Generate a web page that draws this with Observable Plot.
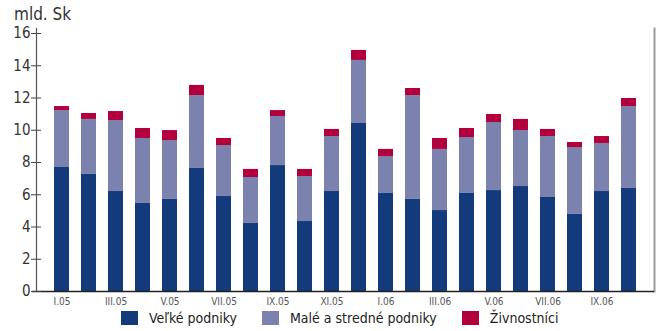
<!DOCTYPE html>
<html>
<head>
<meta charset="utf-8">
<script src="https://cdn.jsdelivr.net/npm/d3@7"></script>
<script src="https://cdn.jsdelivr.net/npm/@observablehq/plot@0.6"></script>
<style>
  html, body { margin: 0; padding: 0; background: #fff; }
  body { width: 658px; height: 331px; position: relative; overflow: hidden;
         font-family: 'Liberation Sans Narrow', 'DejaVu Sans Condensed', sans-serif; color: #333; }
  #title { position: absolute; left: 14px; top: 6px; font-size: 17px; line-height: 17px; color: #333; z-index: 2; }
  #chart { position: absolute; left: 0; top: 0; z-index: 1; }
  #legend { position: absolute; left: 121px; top: 309px; display: flex; align-items: center; font-size: 14px; line-height: 18px; color: #222; z-index: 2; }
  .sw { width: 17px; height: 14px; display: inline-block; margin-right: 11px; }
  .item { display: flex; align-items: center; margin-right: 25px; }
</style>
</head>
<body>
<div id="chart"></div>
<div id="title">mld. Sk</div>
<div id="legend"></div>
<script>
const months = ["I.05","II.05","III.05","IV.05","V.05","VI.05","VII.05","VIII.05","IX.05","X.05","XI.05","XII.05",
                "I.06","II.06","III.06","IV.06","V.06","VI.06","VII.06","VIII.06","IX.06","X.06"];
const seriesNames = ["Veľké podniky", "Malé a stredné podniky", "Živnostníci"];
const seriesColors = ["#133a7a", "#7b82ad", "#b2003e"];
const large = [7.69,7.26,6.20,5.46,5.71,7.63,5.89,4.22,7.81,4.34,6.20,10.42,6.08,5.71,5.02,6.08,6.26,6.51,5.83,4.78,6.20,6.39];
const smallMedium = [3.53,3.41,4.40,4.03,3.65,4.52,3.16,2.85,3.04,2.79,3.41,3.91,2.29,6.44,3.79,3.47,4.22,3.47,3.78,4.15,2.98,5.08];
const tradesmen = [0.25,0.37,0.56,0.62,0.62,0.63,0.44,0.50,0.37,0.44,0.44,0.62,0.44,0.44,0.68,0.56,0.50,0.69,0.44,0.31,0.43,0.50];
const yTicks = [0,2,4,6,8,10,12,14,16];
const xTickLabels = ["I.05","III.05","V.05","VII.05","IX.05","XI.05","I.06","III.06","V.06","VII.06","IX.06"];

const seriesValues = [large, smallMedium, tradesmen];
const data = [];
months.forEach((m, i) => {
  seriesNames.forEach((s, j) => data.push({month: m, series: s, value: seriesValues[j][i]}));
});

const fontFamily = "'Liberation Sans Narrow', 'DejaVu Sans Condensed', sans-serif";

const chart = Plot.plot({
  width: 658,
  height: 310,
  marginLeft: 36,
  marginRight: 4,
  marginTop: 28,
  marginBottom: 19,
  style: {fontFamily, background: "transparent", color: "#333"},
  x: {domain: months, paddingInner: 0.426, paddingOuter: 0.30, label: null},
  y: {domain: [0, 16], insetTop: 5, label: null},
  color: {domain: seriesNames, range: seriesColors},
  marks: [
    Plot.barY(data, {x: "month", y: "value", fill: "series", order: seriesNames}),
    Plot.frame({anchor: "left", stroke: "#555", strokeWidth: 1.2}),
    Plot.frame({anchor: "right", stroke: "#999", strokeWidth: 2}),
    Plot.ruleY([0], {stroke: "#222", strokeWidth: 1.5, insetLeft: -4}),
    Plot.axisY({ticks: yTicks, tickSize: 10, dx: 5, tickFormat: () => "", stroke: "#444"}),
    Plot.axisY({ticks: yTicks, tickSize: 0, tickPadding: 6, fontSize: 15, fill: "#333", label: null}),
    Plot.axisX({ticks: xTickLabels, tickSize: 0, tickPadding: 6, fontSize: 10, fill: "#555", label: null})
  ]
});
document.getElementById("chart").appendChild(chart);

const legend = document.getElementById("legend");
seriesNames.forEach((s, i) => {
  const item = document.createElement("div");
  item.className = "item";
  const sw = document.createElement("span");
  sw.className = "sw";
  sw.style.background = seriesColors[i];
  const t = document.createElement("span");
  t.textContent = s;
  item.appendChild(sw);
  item.appendChild(t);
  legend.appendChild(item);
});
</script>
</body>
</html>
